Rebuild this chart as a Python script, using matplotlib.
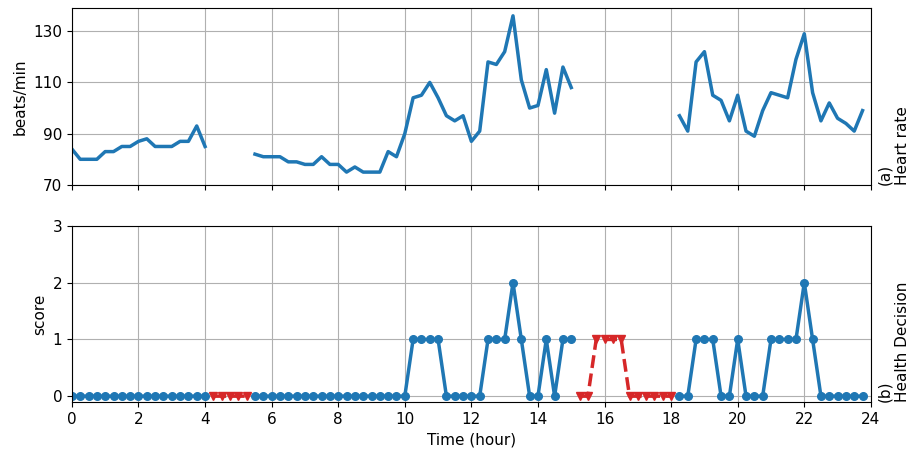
import numpy as np
import matplotlib.pyplot as plt

# time in hours, one sample every 15 min
time = np.arange(96) * 0.25

nan = np.nan
heart_rate = [
    84, 80, 80, 80, 83, 83, 85, 85, 87, 88, 85, 85, 85, 87, 87, 93, 85,
    nan, nan, nan, nan, nan,
    82, 81, 81, 81, 79, 79, 78, 78, 81, 78, 78, 75, 77, 75, 75, 75, 83, 81,
    90, 104, 105, 110, 104, 97, 95, 97, 87, 91, 118, 117, 122, 136, 111, 100,
    101, 115, 98, 116, 108,
    nan, nan, nan, nan, nan, nan, nan, nan, nan, nan, nan, nan,
    97, 91, 118, 122, 105, 103, 95, 105, 91, 89, 99, 106, 105, 104, 119, 129,
    106, 95, 102, 96, 94, 91, 99,
]

score = [
    0, 0, 0, 0, 0, 0, 0, 0, 0, 0, 0, 0, 0, 0, 0, 0, 0,
    0, 0, 0, 0, 0,
    0, 0, 0, 0, 0, 0, 0, 0, 0, 0, 0, 0, 0, 0, 0, 0, 0, 0,
    0, 1, 1, 1, 1, 0, 0, 0, 0, 0, 1, 1, 1, 2, 1, 0,
    0, 1, 0, 1, 1,
    0, 0, 1, 1, 1, 1, 0, 0, 0, 0, 0, 0,
    0, 0, 1, 1, 1, 0, 0, 1, 0, 0, 0, 1, 1, 1, 1, 2,
    1, 0, 0, 0, 0, 0, 0,
]

heart_rate = np.array(heart_rate, dtype=float)
score = np.array(score, dtype=float)
missing = np.isnan(heart_rate)

score_ok = np.where(missing, np.nan, score)
score_missing = np.where(missing, score, np.nan)

plt.rcParams['font.size'] = 11

fig = plt.figure(figsize=(9.1, 4.51), dpi=100)
ax1 = fig.add_axes([0.079, 0.590, 0.878, 0.392])
ax2 = fig.add_axes([0.079, 0.109, 0.878, 0.390], sharex=ax1)

ax1.plot(time, heart_rate, color='tab:blue', lw=2.5)
ax1.set_ylim(70, 139)
ax1.set_yticks([70, 90, 110, 130])
ax1.set_ylabel('beats/min')
ax1.grid(True, color='#b0b0b0')
ax1.tick_params(labelbottom=False)
ax1.text(1.008, 0, '(a)\nHeart rate', transform=ax1.transAxes, rotation=90,
         ha='left', va='bottom', multialignment='left')

ax2.plot(time, score_ok, color='tab:blue', lw=2.5, marker='o', markersize=5.5)
ax2.plot(time, score_missing, color='tab:red', lw=2.5, ls='--',
         marker='v', markersize=6)
ax2.set_ylim(-0.1, 3)
ax2.set_yticks([0, 1, 2, 3])
ax2.set_ylabel('score')
ax2.set_xlabel('Time (hour)')
ax2.set_xlim(0, 24)
ax2.set_xticks(range(0, 25, 2))
ax2.grid(True, color='#b0b0b0')
ax2.text(1.008, 0, '(b)\nHealth Decision', transform=ax2.transAxes, rotation=90,
         ha='left', va='bottom', multialignment='left')

plt.savefig('out.png')
